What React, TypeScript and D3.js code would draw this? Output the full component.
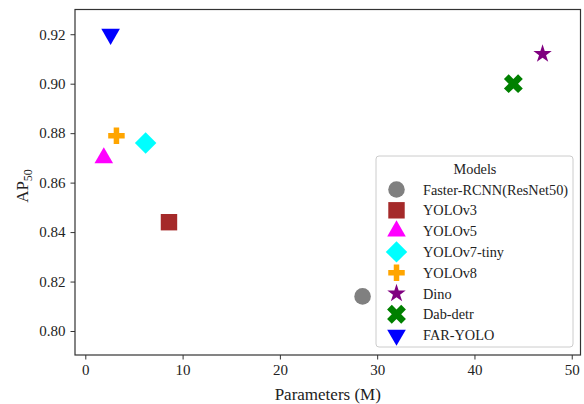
import React, { useEffect, useRef } from 'react';
import * as d3 from 'd3';

// model data
const models = ['Faster-RCNN(ResNet50)', 'YOLOv3', 'YOLOv5', 'YOLOv7-tiny', 'YOLOv8', 'Dino', 'Dab-detr', 'FAR-YOLO'];
const params = [28.5, 8.6, 1.9, 6.2, 3.2, 47.0, 44.0, 2.6];
const ap50 = [0.814, 0.844, 0.87, 0.876, 0.879, 0.912, 0.9, 0.92];
const colors = ['#808080', '#a52a2a', '#ff00ff', '#00ffff', '#ffa500', '#800080', '#008000', '#0000ff'];
const markers = ['circle', 'square', 'triangle', 'diamond', 'plus', 'star', 'x', 'triangleDown'];
const xTicks = [0, 10, 20, 30, 40, 50];
const yTicks = [0.8, 0.82, 0.84, 0.86, 0.88, 0.9, 0.92];

const FONT = '"Liberation Serif", "DejaVu Serif", serif';

// filled plus / x like matplotlib 'P' and 'X'
function plusPath(s: number) {
  const a = s / 2;
  const b = s / 6;
  return `M${-b},${-a}H${b}V${-b}H${a}V${b}H${b}V${a}H${-b}V${b}H${-a}V${-b}H${-b}Z`;
}

function markerPath(kind: string) {
  switch (kind) {
    case 'circle':
      return { d: d3.symbol(d3.symbolCircle, 215)(), rot: 0 };
    case 'square':
      return { d: d3.symbol(d3.symbolSquare, 270)(), rot: 0 };
    case 'triangle':
      return { d: d3.symbol(d3.symbolTriangle, 150)(), rot: 0 };
    case 'triangleDown':
      return { d: d3.symbol(d3.symbolTriangle, 150)(), rot: 180 };
    case 'diamond':
      return { d: d3.symbol(d3.symbolSquare, 230)(), rot: 45 };
    case 'plus':
      return { d: plusPath(16.5), rot: 0 };
    case 'x':
      return { d: plusPath(20), rot: 45 };
    case 'star':
      return { d: d3.symbol(d3.symbolStar, 105)(), rot: 0 };
  }
  return { d: '', rot: 0 };
}

export default function App() {
  const ref = useRef<SVGSVGElement>(null);

  useEffect(() => {
    const width = 584;
    const height = 404;
    const margin = { top: 9.5, right: 3.5, bottom: 49, left: 75 };

    const svg = d3.select(ref.current);
    svg.selectAll('*').remove();

    const x = d3
      .scaleLinear()
      .domain([-1.06, 50.9])
      .range([margin.left, width - margin.right]);

    const y = d3
      .scaleLinear()
      .domain([0.7903, 0.93])
      .range([height - margin.bottom, margin.top]);

    // points
    const data = models.map((m, i) => ({ name: m, x: params[i], y: ap50[i], color: colors[i], marker: markers[i] }));

    svg
      .append('g')
      .selectAll('path')
      .data(data)
      .join('path')
      .attr('d', (d) => markerPath(d.marker).d)
      .attr('transform', (d) => `translate(${x(d.x)},${y(d.y)}) rotate(${markerPath(d.marker).rot})`)
      .attr('fill', (d) => d.color);

    // axes
    const xAxis = svg
      .append('g')
      .attr('transform', `translate(0,${height - margin.bottom})`)
      .call(d3.axisBottom(x).tickValues(xTicks).tickSize(4.5).tickPadding(5).tickSizeOuter(0));
    const yAxis = svg
      .append('g')
      .attr('transform', `translate(${margin.left},0)`)
      .call(
        d3
          .axisLeft(y)
          .tickValues(yTicks)
          .tickFormat(d3.format('.2f'))
          .tickSize(4.5)
          .tickPadding(5)
          .tickSizeOuter(0),
      );
    [xAxis, yAxis].forEach((g) => {
      g.attr('font-family', FONT).attr('font-size', 15);
      g.select('.domain').remove();
      g.selectAll('line').attr('stroke', '#333').attr('stroke-width', 1);
      g.selectAll('text').attr('fill', '#222');
    });

    // frame
    svg
      .append('rect')
      .attr('x', margin.left)
      .attr('y', margin.top)
      .attr('width', width - margin.left - margin.right)
      .attr('height', height - margin.top - margin.bottom)
      .attr('fill', 'none')
      .attr('stroke', '#333')
      .attr('stroke-width', 1.2);

    // axis labels
    svg
      .append('text')
      .attr('x', (margin.left + width - margin.right) / 2)
      .attr('y', 400)
      .attr('text-anchor', 'middle')
      .attr('font-family', FONT)
      .attr('font-size', 17)
      .attr('fill', '#222')
      .text('Parameters (M)');

    const yl = svg
      .append('text')
      .attr('transform', `translate(28,186) rotate(-90)`)
      .attr('text-anchor', 'middle')
      .attr('font-family', FONT)
      .attr('font-size', 17)
      .attr('fill', '#222');
    yl.append('tspan').text('AP');
    yl.append('tspan').attr('font-size', 12).attr('dy', 4).text('50');

    // legend
    const lg = svg.append('g');
    lg.append('rect')
      .attr('x', 376)
      .attr('y', 156)
      .attr('width', 197)
      .attr('height', 191)
      .attr('rx', 3)
      .attr('fill', 'white')
      .attr('fill-opacity', 0.8)
      .attr('stroke', '#cccccc')
      .attr('stroke-width', 1);
    lg.append('text')
      .attr('x', 475)
      .attr('y', 174)
      .attr('text-anchor', 'middle')
      .attr('font-family', FONT)
      .attr('font-size', 14.3)
      .attr('fill', '#222')
      .text('Models');
    const rows = lg
      .selectAll('g.row')
      .data(data)
      .join('g')
      .attr('class', 'row')
      .attr('transform', (d, i) => `translate(0,${189.5 + i * 20.8})`);
    rows
      .append('path')
      .attr('d', (d) => markerPath(d.marker).d)
      .attr('transform', (d) => `translate(396.5,0) rotate(${markerPath(d.marker).rot})`)
      .attr('fill', (d) => d.color);
    rows
      .append('text')
      .attr('x', 423)
      .attr('y', 5)
      .attr('font-family', FONT)
      .attr('font-size', 14.3)
      .attr('fill', '#222')
      .text((d) => d.name);
  });

  return (
    <svg
      ref={ref}
      width={584}
      height={404}
      style={{ position: 'absolute', left: 0, top: 0, background: 'white' }}
    />
  );
}
